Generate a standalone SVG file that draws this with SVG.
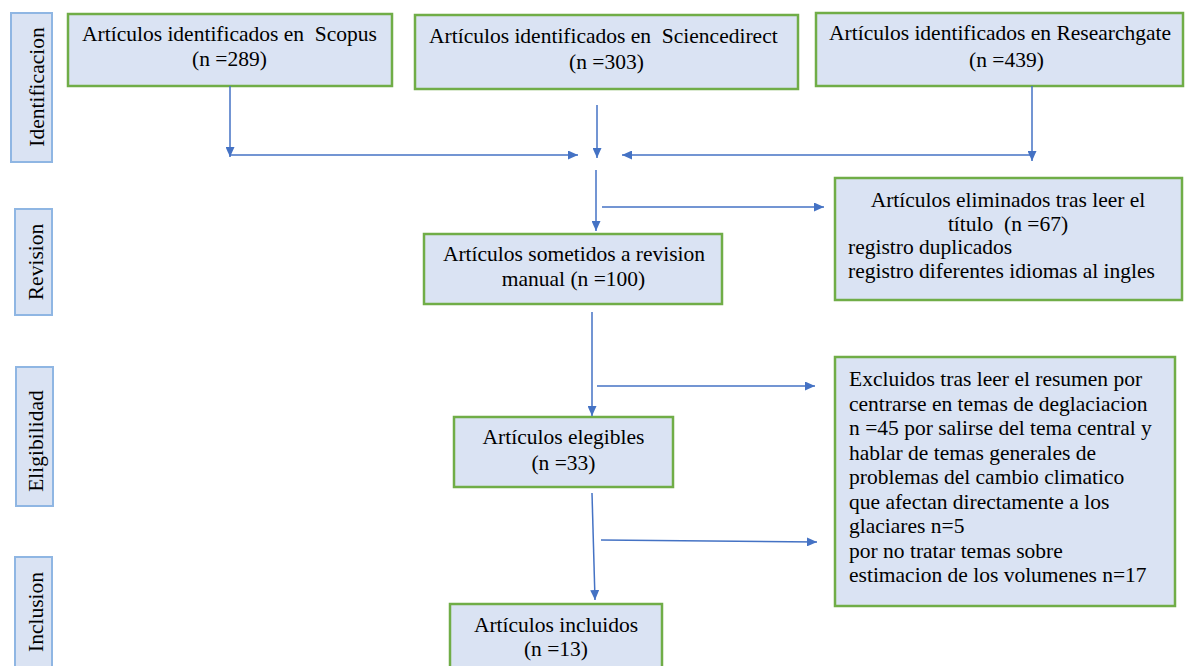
<svg xmlns="http://www.w3.org/2000/svg" width="1187" height="666" viewBox="0 0 1187 666">
<style>
.box{fill:#dae3f3;stroke:#70ad47;stroke-width:2.5}
.lab{fill:#dae3f3;stroke:#8fb6e3;stroke-width:2}
.t{font-family:'Liberation Serif','Times New Roman',serif;font-size:21.5px;fill:#000000}
.m{text-anchor:middle}
.c{stroke:#4472c4;stroke-width:1.5;fill:none;marker-end:url(#ah)}
</style>
<defs>
<marker id="ah" markerUnits="userSpaceOnUse" markerWidth="11" markerHeight="9" refX="10" refY="4.5" orient="auto" viewBox="0 0 11 9">
<path d="M0,0 L10,4.5 L0,9 z" fill="#4472c4"/>
</marker>
</defs>
<rect width="1187" height="666" fill="#ffffff"/>

<g id="stage-identificacion">
<rect class="lab" x="11" y="13" width="41" height="149"/>
<text class="t m" transform="translate(44,87) rotate(-90)">Identificacion</text>
</g>
<g id="stage-revision">
<rect class="lab" x="15" y="209" width="37" height="106"/>
<text class="t m" transform="translate(43,262) rotate(-90)">Revision</text>
</g>
<g id="stage-eligibilidad">
<rect class="lab" x="16" y="367" width="37" height="139"/>
<text class="t m" transform="translate(43,441) rotate(-90)">Eligibilidad</text>
</g>
<g id="stage-inclusion">
<rect class="lab" x="15" y="557" width="37" height="112"/>
<text class="t m" transform="translate(43,612) rotate(-90)">Inclusion</text>
</g>

<g id="node-scopus">
<rect class="box" x="68" y="14" width="324" height="72"/>
<text class="t" x="82" y="41" xml:space="preserve">Artículos identificados en  Scopus</text>
<text class="t m" x="229.5" y="66">(n =289)</text>
</g>
<g id="node-sciencedirect">
<rect class="box" x="415" y="15" width="383" height="74"/>
<text class="t" x="429" y="43" xml:space="preserve">Artículos identificados en  Sciencedirect</text>
<text class="t m" x="606.5" y="68.5">(n =303)</text>
</g>
<g id="node-researchgate">
<rect class="box" x="816" y="13" width="367" height="73"/>
<text class="t" x="829" y="40">Artículos identificados en Researchgate</text>
<text class="t m" x="1006.5" y="66.5">(n =439)</text>
</g>
<g id="node-eliminados">
<rect class="box" x="835" y="178" width="347" height="122"/>
<text class="t m" x="1008" y="207">Artículos eliminados tras leer el</text>
<text class="t m" x="1008" y="230.5" xml:space="preserve">título  (n =67)</text>
<text class="t" x="848" y="254">registro duplicados</text>
<text class="t" x="848" y="277.5">registro diferentes idiomas al ingles</text>
</g>
<g id="node-sometidos">
<rect class="box" x="424" y="234" width="298" height="70"/>
<text class="t m" x="574" y="260.5">Artículos sometidos a revision</text>
<text class="t m" x="573.5" y="286">manual (n =100)</text>
</g>
<g id="node-excluidos">
<rect class="box" x="835" y="357" width="340" height="249"/>
<text class="t" x="849" y="386">Excluidos tras leer el resumen por</text>
<text class="t" x="849" y="410.5">centrarse en temas de deglaciacion</text>
<text class="t" x="849" y="435">n =45 por salirse del tema central y</text>
<text class="t" x="849" y="459.5">hablar de temas generales de</text>
<text class="t" x="849" y="484">problemas del cambio climatico</text>
<text class="t" x="849" y="508.5">que afectan directamente a los</text>
<text class="t" x="849" y="533">glaciares n=5</text>
<text class="t" x="849" y="557.5">por no tratar temas sobre</text>
<text class="t" x="849" y="582">estimacion de los volumenes n=17</text>
</g>
<g id="node-elegibles">
<rect class="box" x="454" y="417" width="219" height="70"/>
<text class="t m" x="563.5" y="444">Artículos elegibles</text>
<text class="t m" x="563.5" y="469.5">(n =33)</text>
</g>
<g id="node-incluidos">
<rect class="box" x="450" y="604" width="212" height="70"/>
<text class="t m" x="556" y="631.5">Artículos incluidos</text>
<text class="t m" x="556" y="656">(n =13)</text>
</g>

<g id="connectors">
<line class="c" x1="230" y1="86" x2="230" y2="157"/>
<line class="c" x1="230" y1="155" x2="578" y2="155"/>
<line class="c" x1="597" y1="105" x2="597" y2="158"/>
<line class="c" x1="1032" y1="155" x2="622" y2="155"/>
<line class="c" x1="1032" y1="86" x2="1032" y2="161"/>
<line class="c" x1="596" y1="170" x2="596" y2="231"/>
<line class="c" x1="602" y1="207" x2="824" y2="207"/>
<line class="c" x1="592" y1="312" x2="592" y2="416"/>
<line class="c" x1="597" y1="386" x2="815" y2="386"/>
<line class="c" x1="592" y1="493" x2="595" y2="600"/>
<line class="c" x1="601" y1="540" x2="817" y2="542"/>
</g>
</svg>
